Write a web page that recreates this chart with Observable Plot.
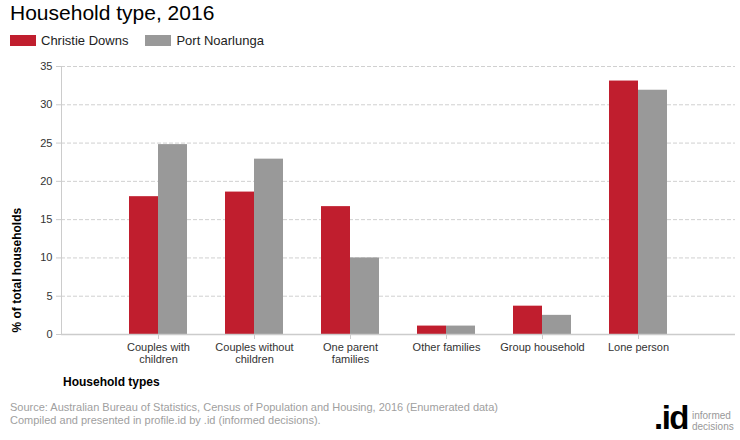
<!DOCTYPE html>
<html>
<head>
<meta charset="utf-8">
<script src="https://cdn.jsdelivr.net/npm/d3@7"></script>
<script src="https://cdn.jsdelivr.net/npm/@observablehq/plot@0.6"></script>
<style>
  body { margin: 0; background: #fff; font-family: "Liberation Sans", Arial, sans-serif; }
  #wrap { position: relative; width: 740px; height: 440px; overflow: hidden; }
  .abs { position: absolute; white-space: nowrap; }
  #title { left: 10px; top: 1px; font-size: 21px; color: #000; }
  #legend { left: 10px; top: 33px; font-size: 13px; color: #222; display: flex; align-items: center; }
  .sw { width: 26px; height: 11px; display: inline-block; margin-right: 5px; }
  .item { display: flex; align-items: center; margin-right: 17px; }
  #chart { position: absolute; left: 0; top: 52px; }
  #xtitle { left: 63px; top: 375px; font-size: 12px; font-weight: bold; color: #000; }
  #source { left: 10px; top: 401px; font-size: 11px; color: #a0a0a0; line-height: 13px; }
  #logo-id { left: 654px; top: 401px; font-size: 33px; line-height: 33px; font-weight: bold; color: #000; letter-spacing: -1.5px; }
  #logo-txt { left: 692px; top: 410px; font-size: 10px; color: #999; line-height: 11px; }
</style>
</head>
<body>
<div id="wrap">
  <div id="title" class="abs">Household type, 2016</div>
  <div id="legend" class="abs"></div>
  <div id="chart"></div>
  <div id="xtitle" class="abs">Household types</div>
  <div id="source" class="abs">Source: Australian Bureau of Statistics, Census of Population and Housing, 2016 (Enumerated data)<br>Compiled and presented in profile.id by .id (informed decisions).</div>
  <div id="logo-id" class="abs">.id</div>
  <div id="logo-txt" class="abs">informed<br>decisions</div>
</div>
<script>
const categories = ["Couples with\nchildren", "Couples without\nchildren", "One parent\nfamilies", "Other families", "Group household", "Lone person"];
const seriesNames = ["Christie Downs", "Port Noarlunga"];
const christieDowns = [18.0, 18.6, 16.7, 1.1, 3.7, 33.1];
const portNoarlunga = [24.8, 22.9, 10.0, 1.1, 2.5, 31.9];
const yTicks = [0, 5, 10, 15, 20, 25, 30, 35];
const colors = ["#c01e2e", "#999999"];

const dataA = categories.map((c, i) => ({category: c, value: christieDowns[i]}));
const dataB = categories.map((c, i) => ({category: c, value: portNoarlunga[i]}));

const legend = document.getElementById("legend");
seriesNames.forEach((s, i) => {
  const it = document.createElement("span");
  it.className = "item";
  it.innerHTML = `<span class="sw" style="background:${colors[i]}"></span>${s}`;
  legend.appendChild(it);
});

const chart = Plot.plot({
  width: 740,
  height: 320,
  marginTop: 14,
  marginBottom: 38,
  marginLeft: 61,
  marginRight: 5,
  style: {fontFamily: "'Liberation Sans', Arial, sans-serif", fontSize: "11px", background: "#fff", color: "#333"},
  x: {type: "band", domain: categories, paddingInner: 0.398, paddingOuter: 0.699, align: 0.5, label: null},
  y: {domain: [0, 35], label: null},
  marks: [
    Plot.ruleY(yTicks.filter(d => d > 0), {stroke: "#d0d0d0", strokeDasharray: "4,2"}),
    Plot.barY(dataA, {x: "category", y: "value", fill: colors[0], insetRight: 29, insetLeft: 0}),
    Plot.barY(dataB, {x: "category", y: "value", fill: colors[1], insetLeft: 29, insetRight: 0}),
    Plot.ruleY([0], {stroke: "#ccc", strokeWidth: 1.5}),
    Plot.frame({anchor: "left", stroke: "#ccc"}),
    Plot.axisY({ticks: yTicks, tickSize: 5, tickPadding: 4, stroke: "#ccc", fill: "#333", label: null}),
    Plot.axisX({tickSize: 5, tickPadding: 3, stroke: "#ccc", fill: "#333", lineHeight: 1.1, label: null}),
    Plot.text(["% of total households"], {frameAnchor: "bottom-left", dx: -41, dy: -2, rotate: -90, textAnchor: "start", fontWeight: "bold", fontSize: 12, fill: "#000"})
  ]
});
document.getElementById("chart").appendChild(chart);
</script>
</body>
</html>
